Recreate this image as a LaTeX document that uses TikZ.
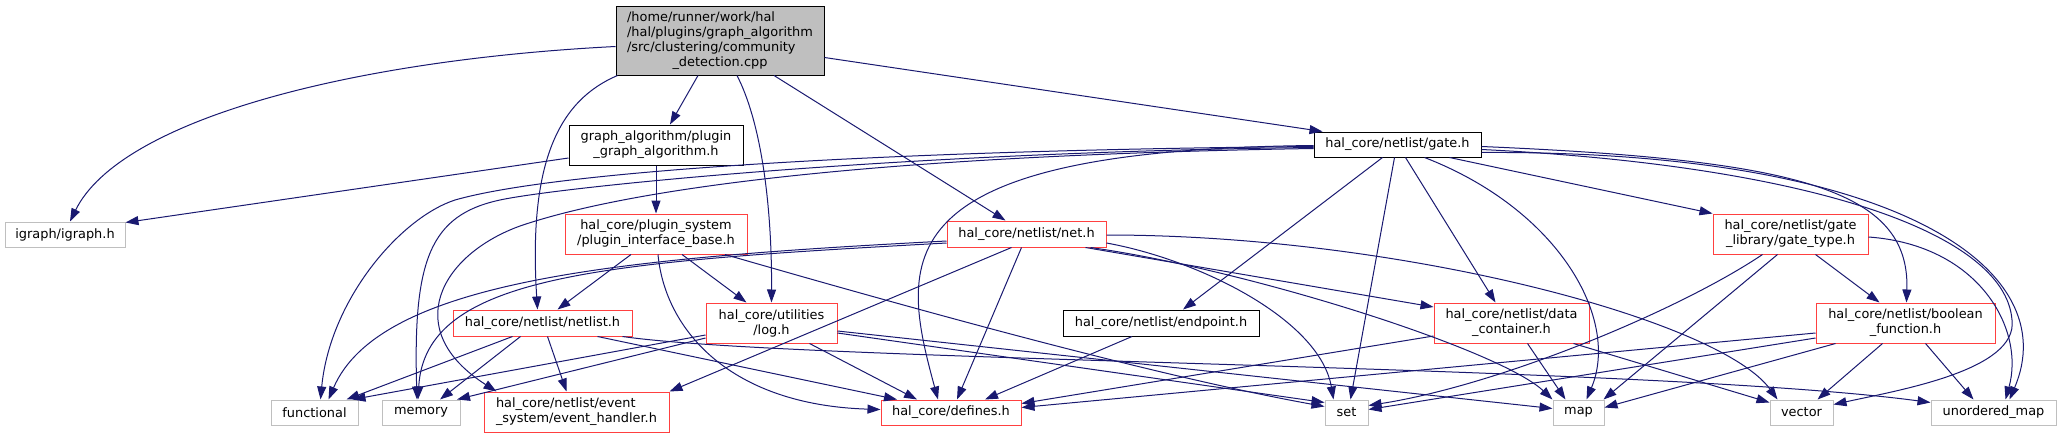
\documentclass[tikz,border=0pt]{standalone}
\usepackage{fontspec}
\setmainfont{DejaVu Sans}
\usetikzlibrary{arrows.meta}
\definecolor{edgeblue}{RGB}{25,25,112}
\definecolor{truncred}{RGB}{255,64,64}
\definecolor{sysgray}{RGB}{191,191,191}
\tikzset{
  file/.style={draw=black, fill=white, line width=1pt, inner sep=0pt, align=center,
    font=\fontsize{12.9}{15}\selectfont},
  trunc/.style={file, draw=truncred},
  sys/.style={file, draw=sysgray, minimum height=25},
  edge/.style={draw=edgeblue, line width=1pt, -{Triangle[length=13pt,width=9pt]}},
}
\begin{document}
\begin{tikzpicture}[x=1pt, y=-1pt]
  \useasboundingbox (0,0) rectangle (2061,439);
  % Files
  \node[file, fill=sysgray, minimum width=208, minimum height=69] (root) at (720,40.5)
    {\begin{tabular}{@{}l@{}}/home/runner/work/hal\\/hal/plugins/graph\_algorithm\\/src/clustering/community\\\multicolumn{1}{@{}c@{}}{\_detection.cpp}\end{tabular}};
  \node[file, minimum width=174, minimum height=40] (ga) at (656,145) {graph\_algorithm/plugin\\\_graph\_algorithm.h};
  \node[file, minimum width=167, minimum height=25] (gate) at (1397.5,144.5) {hal\_core/netlist/gate.h};
  \node[trunc, minimum width=182, minimum height=40] (pib) at (656,234) {hal\_core/plugin\_system\\/plugin\_interface\_base.h};
  \node[trunc, minimum width=159, minimum height=26] (net) at (1026.5,234) {hal\_core/netlist/net.h};
  \node[trunc, minimum width=155, minimum height=40] (gatetype) at (1790.5,234) {hal\_core/netlist/gate\\\_library/gate\_type.h};
  \node[trunc, minimum width=179, minimum height=26] (netlist) at (542.5,323) {hal\_core/netlist/netlist.h};
  \node[trunc, minimum width=131, minimum height=40] (log) at (771.5,323) {hal\_core/utilities\\/log.h};
  \node[file, minimum width=196, minimum height=26] (endpoint) at (1161,323) {hal\_core/netlist/endpoint.h};
  \node[trunc, minimum width=155, minimum height=40] (datac) at (1511.5,323) {hal\_core/netlist/data\\\_container.h};
  \node[trunc, minimum width=179, minimum height=40] (boolfn) at (1905.5,323) {hal\_core/netlist/boolean\\\_function.h};
  \node[trunc, minimum width=185, minimum height=40, align=left] (evh) at (576.5,412) {hal\_core/netlist/event\\\_system/event\_handler.h};
  \node[trunc, minimum width=140, minimum height=25] (defines) at (951,412.5) {hal\_core/defines.h};
  % System headers
  \node[sys, minimum width=120] (igraph) at (65,234.5) {igraph/igraph.h};
  \foreach \n/\x/\w/\t in {functional/314.5/87/functional, memory/421/78/memory, set/1346.5/43/set,
      map/1578.5/51/map, vector/1801.5/63/vector, umap/1993.5/125/unordered\_map}
    \node[sys, minimum width=\w] (\n) at (\x,412.5) {\t};

  % Includes of the source file
  \draw[edge] ([yshift=-6]root.west) .. controls (350,60) and (120,120) .. ([xshift=5]igraph.north);
  \draw[edge] ([xshift=-22]root.south) -- ([xshift=14]ga.north);
  \draw[edge] ([xshift=2]root.south west) .. controls (560,100) and (528,160) .. ([xshift=-5]netlist.north);
  \draw[edge] ([xshift=17]root.south) .. controls (760,120) and (772,200) .. (log.north);
  \draw[edge] ([xshift=54]root.south) -- ([xshift=-21]net.north);
  \draw[edge] ([yshift=-17]root.east) -- ([xshift=-75]gate.north);

  % graph_algorithm and plugin_interface_base
  \draw[edge] ([yshift=-13]ga.west) -- ([yshift=12]igraph.east);
  \draw[edge] (ga) -- (pib);
  \draw[edge] ([xshift=-25]pib.south) -- ([xshift=15]netlist.north);
  \draw[edge] ([xshift=26]pib.south) -- ([xshift=-25]log.north);
  \draw[edge] ([xshift=2]pib.south) .. controls (665,330) and (730,405) .. ([yshift=3]defines.west);
  \draw[edge] ([xshift=69]pib.south) .. controls (900,305) and (1150,375) .. ([yshift=6]set.west);

  % netlist.h
  \draw[edge] ([xshift=-30]netlist.south) -- ([xshift=32]functional.north);
  \draw[edge] ([xshift=-22]netlist.south) -- ([xshift=19]memory.north);
  \draw[edge] ([xshift=5]netlist.south) -- ([xshift=-10]evh.north);
  \draw[edge] ([xshift=55]netlist.south) -- ([xshift=-54]defines.north);
  \draw[edge] ([xshift=80]netlist.south) .. controls (800,362) and (1650,365) .. ([yshift=10]umap.west);

  % log.h
  \draw[edge] ([yshift=-12]log.west) -- ([xshift=38]functional.north);
  \draw[edge] ([yshift=-15]log.west) -- ([xshift=36]memory.north);
  \draw[edge] ([xshift=38]log.south) -- ([xshift=-34]defines.north);
  \draw[edge] ([yshift=-10]log.east) -- ([yshift=10]set.west);
  \draw[edge] ([yshift=-8]log.east) -- ([yshift=4]map.west);

  % net.h
  \draw[edge] ([yshift=-7]net.west) .. controls (620,258) and (380,280) .. ([xshift=14]functional.north);
  \draw[edge] ([yshift=-9]net.west) .. controls (600,262) and (425,275) .. ([xshift=-3]memory.north);
  \draw[edge] ([xshift=-15]net.south) -- (evh.north east);
  \draw[edge] ([xshift=-5]net.south) -- ([xshift=6]defines.north);
  \draw[edge] ([yshift=-9]net.east) .. controls (1200,260) and (1320,320) .. ([xshift=-13]set.north);
  \draw[edge] ([xshift=59]net.south) -- ([yshift=16]datac.west);
  \draw[edge] ([xshift=64]net.south) .. controls (1250,270) and (1500,350) .. ([xshift=-26]map.north);
  \draw[edge] ([yshift=-1]net.east) .. controls (1400,235) and (1720,320) .. ([xshift=-24]vector.north);

  % gate.h
  \draw[edge] ([yshift=-2]gate.west) .. controls (900,150) and (560,170) .. (455,200)
    .. controls (400,218) and (330,300) .. ([xshift=6]functional.north);
  \draw[edge] ([yshift=-3]gate.west) .. controls (900,152) and (560,187) .. (500,200)
    .. controls (430,215) and (413,260) .. ([xshift=-4]memory.north);
  \draw[edge] ([yshift=-4]gate.west) .. controls (900,155) and (640,185) .. (520,226)
    .. controls (440,255) and (400,330) .. ([xshift=13]evh.north west);
  \draw[edge] ([yshift=-1]gate.west) .. controls (880,150) and (900,260) .. ([xshift=-13]defines.north);
  \draw[edge] ([xshift=-15]gate.south) -- ([xshift=22]endpoint.north);
  \draw[edge] ([xshift=-3]gate.south) -- ([xshift=4]set.north);
  \draw[edge] ([xshift=8]gate.south) -- ([xshift=-16]datac.north);
  \draw[edge] ([xshift=27]gate.south) .. controls (1560,210) and (1620,320) .. ([xshift=8]map.north);
  \draw[edge] ([xshift=52]gate.south) -- (gatetype.north west);
  \draw[edge] ([yshift=-2]gate.east) .. controls (1800,160) and (1910,190) .. ([xshift=1]boolfn.north);
  \draw[edge] ([yshift=-5]gate.east) .. controls (1800,165) and (2005,230) .. (2012,320)
    .. controls (2018,370) and (1900,390) .. ([yshift=8]vector.east);
  \draw[edge] ([yshift=-8]gate.east) .. controls (1900,150) and (2065,270) .. ([xshift=16]umap.north);

  % gate_type.h
  \draw[edge] ([xshift=-28]gatetype.south) .. controls (1680,310) and (1500,385) .. ([yshift=7]set.east);
  \draw[edge] ([xshift=-13]gatetype.south) -- ([xshift=25]map.north);
  \draw[edge] ([xshift=25]gatetype.south) -- ([xshift=-26]boolfn.north);
  \draw[edge] ([yshift=-3]gatetype.east) .. controls (1980,245) and (2025,330) .. ([xshift=12]umap.north);

  % endpoint.h, data_container.h, boolean_function.h
  \draw[edge] ([xshift=-29]endpoint.south) -- ([xshift=34]defines.north);
  \draw[edge] ([yshift=-13]datac.west) -- ([yshift=9]defines.east);
  \draw[edge] ([xshift=16]datac.south) -- ([xshift=-13]map.north);
  \draw[edge] ([xshift=62]datac.south) -- ([yshift=10]vector.west);
  \draw[edge] ([yshift=-10]boolfn.west) -- ([yshift=5]defines.east);
  \draw[edge] ([yshift=-15]boolfn.west) -- ([yshift=3]set.east);
  \draw[edge] ([xshift=-70]boolfn.south) -- ([yshift=5]map.east);
  \draw[edge] ([xshift=-23]boolfn.south) -- ([xshift=16]vector.north);
  \draw[edge] ([xshift=20]boolfn.south) -- ([xshift=-20]umap.north);
\end{tikzpicture}
\end{document}
